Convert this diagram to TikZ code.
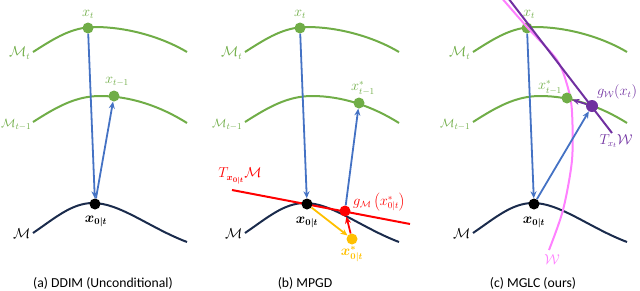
\documentclass[tikz,border=0pt]{standalone}
\usepackage{fontspec}
\usepackage{bm}
\newfontfamily\capfont{Carlito}
\usetikzlibrary{arrows.meta}
\definecolor{mgreen}{HTML}{70AD47}
\definecolor{mblue}{HTML}{4472C4}
\definecolor{mnavy}{HTML}{1A2B4C}
\definecolor{mred}{HTML}{FF0000}
\definecolor{myellow}{HTML}{FFC000}
\definecolor{mpurple}{HTML}{7030A0}
\definecolor{mpink}{HTML}{FF80FF}
\begin{document}
\begin{tikzpicture}[x=1pt,y=-1pt,
  manif/.style={line width=2pt},
  dotg/.style={circle,fill=mgreen,inner sep=0pt,minimum size=11pt},
  dotk/.style={circle,fill=black,inner sep=0pt,minimum size=11pt},
  dotr/.style={circle,fill=mred,inner sep=0pt,minimum size=11pt},
  doty/.style={circle,fill=myellow,inner sep=0pt,minimum size=11pt},
  dotp/.style={circle,fill=mpurple,inner sep=0pt,minimum size=12pt},
  arr/.style={line width=1.8pt,-{Stealth[length=7pt,width=6pt]}},
  lab/.style={font=\fontsize{13.5}{16}\selectfont,inner sep=0.5pt},
  labs/.style={font=\fontsize{12.3}{15}\selectfont,inner sep=0.5pt},
  captext/.style={font=\capfont\fontsize{13.7}{16}\selectfont}]
\useasboundingbox (0,0) rectangle (640,290);
\clip (0,0) rectangle (640,290);

% ---------------- panel (a)
\draw[manif,mgreen] (33,52) .. controls (55,38) and (72,27) .. (95,27) .. controls (125,27) and (160,36) .. (187,52);
\draw[manif,mgreen] (33,122) .. controls (55,108) and (75,96) .. (100,96) .. controls (130,96) and (160,106) .. (187,123);
\draw[manif,mnavy] (33,233) .. controls (55,218) and (72,203) .. (93,203) .. controls (120,203) and (150,228) .. (187,242);
\node[dotg] (axt) at (88,28) {};
\node[dotg] (axt1) at (114,96) {};
\node[dotk] (ax0) at (95,204) {};
\draw[arr,mblue] (axt) -- (ax0);
\draw[arr,mblue] (ax0) -- (axt1);
\node[lab,mgreen] (laxt) at (88,14) {$x_t$};
\node[lab,mgreen] (laxt1) at (117,82) {$x_{t-1}$};
\node[lab,mgreen,anchor=east] (laMt) at (31,53) {$\mathcal{M}_t$};
\node[labs,mgreen,anchor=east] (laMt1) at (32,125) {$\mathcal{M}_{t-1}$};
\node[lab,anchor=east] (laM) at (31,234) {$\mathcal{M}$};
\node[lab] (lax0) at (96,221) {$\bm{x_{0|t}}$};
\node[captext] (capa) at (103,283) {(a) DDIM (Unconditional)};

% ---------------- panel (b)
\draw[manif,mgreen] (245,52) .. controls (267,38) and (284,27) .. (307,27) .. controls (337,27) and (372,36) .. (399,52);
\draw[manif,mgreen] (245,122) .. controls (267,108) and (287,96) .. (312,96) .. controls (342,96) and (372,106) .. (399,123);
\draw[manif,mnavy] (245,233) .. controls (267,218) and (284,203) .. (305,203) .. controls (332,203) and (362,228) .. (399,242);
\coordinate (bt1) at (232,190);
\coordinate (bt2) at (410,224);
\draw[manif,mred] (bt1) -- (bt2);
\node[dotg] (bxt) at (300,28) {};
\node[dotg] (bxt1) at (359,103) {};
\node[dotk] (bx0) at (307,204) {};
\node[dotr] (bg) at (345,211) {};
\node[doty] (by) at (352,239) {};
\draw[arr,mblue] (bxt) -- (bx0);
\draw[arr,myellow] (bx0) -- (by);
\draw[arr,mred] (by) -- (bg);
\draw[arr,mblue] (bg) -- (bxt1);
\node[lab,mgreen] (lbxt) at (300,14) {$x_t$};
\node[lab,mgreen] (lbxt1) at (363,88) {$x^*_{t-1}$};
\node[lab,mgreen,anchor=east] (lbMt) at (243,53) {$\mathcal{M}_t$};
\node[labs,mgreen,anchor=east] (lbMt1) at (243,125) {$\mathcal{M}_{t-1}$};
\node[lab,anchor=east] (lbM) at (243,234) {$\mathcal{M}$};
\node[lab,mred] (lbT) at (240,176) {$T_{\bm{x_{0|t}}}\mathcal{M}$};
\node[lab,mred] (lbg) at (379,202) {$g_{\mathcal{M}}\left(x^*_{0|t}\right)$};
\node[lab] (lbx0) at (307,222) {$\bm{x_{0|t}}$};
\node[lab,myellow] (lby) at (352,254) {$\bm{x^*_{0|t}}$};
\node[captext] (capb) at (305,283) {(b) MPGD};

% ---------------- panel (c)
\draw[manif,mgreen] (473,52) .. controls (495,38) and (512,27) .. (535,27) .. controls (565,27) and (600,36) .. (627,52);
\draw[manif,mgreen] (473,122) .. controls (495,108) and (515,96) .. (540,96) .. controls (570,96) and (600,106) .. (627,123);
\draw[manif,mnavy] (473,233) .. controls (495,218) and (512,203) .. (533,203) .. controls (560,203) and (590,228) .. (627,242);
\node[dotg] (cxt) at (527,28) {};
\node[dotk] (cx0) at (534,204) {};
\draw[mpink,line width=2pt] plot[smooth] coordinates {(500,-4) (527,27) (557,60) (568,88) (572,112) (572,160) (563,210) (549,250)};
\coordinate (ct1) at (505,-6);
\coordinate (ct2) at (612,133);
\draw[manif,mpurple] (ct1) -- (ct2);
\node[dotg] (cxt1) at (567,98) {};
\node[dotp] (cg) at (592,106) {};
\draw[arr,mblue] (cxt) -- (cx0);
\draw[arr,mblue] (cx0) -- (cg);
\draw[arr,mpurple] (cg) -- (cxt1);
\node[lab,mgreen] (lcxt) at (529,14) {$x_t$};
\node[lab,mgreen] (lcxt1) at (550,87) {$x^*_{t-1}$};
\node[lab,mgreen,anchor=east] (lcMt) at (471,53) {$\mathcal{M}_t$};
\node[labs,mgreen,anchor=east] (lcMt1) at (471,125) {$\mathcal{M}_{t-1}$};
\node[lab,anchor=east] (lcM) at (471,234) {$\mathcal{M}$};
\node[lab,mpurple] (lcg) at (617,92) {$g_{\mathcal{W}}(x_t)$};
\node[lab,mpurple] (lcT) at (616,141) {$T_{x_t}\mathcal{W}$};
\node[lab,mpink] (lcW) at (552,260) {$\mathcal{W}$};
\node[lab] (lcx0) at (534,222) {$\bm{x_{0|t}}$};
\node[captext] (capc) at (533,283) {(c) MGLC (ours)};
\end{tikzpicture}
\end{document}
